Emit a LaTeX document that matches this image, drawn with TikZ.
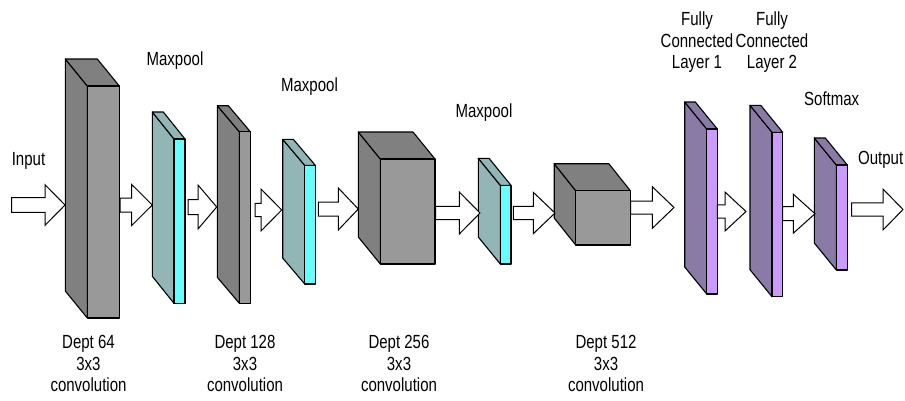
\documentclass[tikz,border=0pt]{standalone}
\usepackage{fontspec}
\setmainfont{Liberation Sans}[FakeStretch=0.79]
\definecolor{greyside}{HTML}{808080}
\definecolor{greyfront}{HTML}{999999}
\definecolor{tealside}{HTML}{92B5B5}
\definecolor{tealfront}{HTML}{66FFFF}
\definecolor{purpside}{HTML}{8A7AA6}
\definecolor{purpfront}{HTML}{CC99FF}
\tikzset{
  face/.style={draw=black, line width=1.1pt, line join=round},
  greyS/.style={face, fill=greyside},
  greyF/.style={face, fill=greyfront},
  tealS/.style={face, fill=tealside},
  tealF/.style={face, fill=tealfront},
  purpS/.style={face, fill=purpside},
  purpF/.style={face, fill=purpfront},
  blockarr/.style={draw=black, fill=white, line width=1pt, line join=miter},
  lbl/.style={font=\fontsize{19}{21.5}\selectfont, inner sep=0pt, align=center, anchor=north}
}
% #1 name, #2 fx, #3 fy, #4 w, #5 h, #6 dx, #7 dy, #8 colour prefix
\newcommand\cnnbox[8]{%
  \coordinate (#1) at (#2,#3);
  \filldraw[#8S] (#2,#3) -- ({#2-#6},{#3-#7}) -- ({#2-#6},{#3+#5-#7}) -- (#2,{#3+#5}) -- cycle;
  \filldraw[#8S] (#2,#3) -- ({#2-#6},{#3-#7}) -- ({#2+#4-#6},{#3-#7}) -- ({#2+#4},#3) -- cycle;
  \filldraw[#8F] (#2,#3) rectangle ({#2+#4},{#3+#5});
}
% #1 start x, #2 shaft end x, #3 tip x, #4 centre y, #5 shaft half height, #6 head half height
\newcommand\blockarrow[6]{%
  \draw[blockarr] (#1,{#4-#5}) -- (#2,{#4-#5}) -- (#2,{#4-#6}) -- (#3,#4) -- (#2,{#4+#6}) -- (#2,{#4+#5}) -- (#1,{#4+#5}) -- cycle;
}
\begin{document}
\begin{tikzpicture}[x=1pt, y=-1pt]
\useasboundingbox (0,0) rectangle (905,400);
% layers
\cnnbox{conv1}{87.3}{86}{32}{232}{22}{27}{grey}
\cnnbox{pool1}{174}{139}{11}{164.3}{21.7}{27}{teal}
\cnnbox{conv2}{239.3}{131.7}{11}{171.6}{22}{26}{grey}
\cnnbox{pool2}{304.7}{165.3}{10.6}{118.7}{22}{26}{teal}
\cnnbox{conv3}{380.3}{159}{54.7}{105}{22}{27}{grey}
\cnnbox{pool3}{500.3}{185.3}{10.7}{78.7}{22}{27}{teal}
\cnnbox{conv4}{575.7}{190.7}{54.6}{54.3}{21.5}{27}{grey}
\cnnbox{fc1}{706.7}{129}{10.6}{165}{22}{27}{purp}
\cnnbox{fc2}{772}{132.3}{10.7}{164.4}{22}{27}{purp}
\cnnbox{soft}{836.3}{165}{11}{105}{22}{27}{purp}
% arrows
\blockarrow{11.7}{45}{65}{205}{7.3}{20.3}
\blockarrow{120}{131.7}{152.3}{205}{7}{20.5}
\blockarrow{188}{198}{216.7}{207}{7.5}{22}
\blockarrow{255}{261}{281.7}{210}{6.7}{21}
\blockarrow{318.3}{338.3}{358.3}{209}{7}{21}
\blockarrow{435.7}{459.3}{480}{213}{6.7}{21}
\blockarrow{513.3}{533.3}{555}{213}{6.7}{20.7}
\blockarrow{630.7}{652.3}{674}{207.5}{6.5}{20.8}
\blockarrow{717.3}{725}{746}{211.5}{6.7}{19.5}
\blockarrow{782.7}{793.3}{815}{213.7}{7}{19.5}
\blockarrow{851.7}{883}{903}{209.5}{6.7}{20.5}
% labels (north = first baseline - 13.8)
\node[lbl] (tin) at (28.5,152.6) {Input};
\node[lbl] (tmp1) at (175,51.2) {Maxpool};
\node[lbl] (tmp2) at (309.5,77.2) {Maxpool};
\node[lbl] (tmp3) at (484,104) {Maxpool};
\node[lbl] (tfc1) at (697,11.7) {Fully\\Connected\\Layer 1};
\node[lbl] (tfc2) at (772,11.7) {Fully\\Connected\\Layer 2};
\node[lbl] (tsm) at (831.7,91.5) {Softmax};
\node[lbl] (tout) at (880.7,151) {Output};
\node[lbl] (td1) at (88.5,335.5) {Dept 64\\3x3\\convolution};
\node[lbl] (td2) at (245,335.5) {Dept 128\\3x3\\convolution};
\node[lbl] (td3) at (399,335.5) {Dept 256\\3x3\\convolution};
\node[lbl] (td4) at (606,335.5) {Dept 512\\3x3\\convolution};
\end{tikzpicture}
\end{document}
